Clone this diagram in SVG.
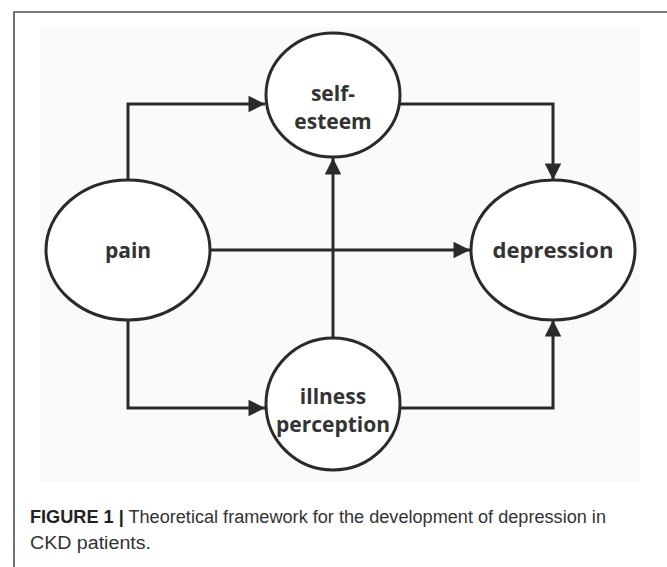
<svg xmlns="http://www.w3.org/2000/svg" width="667" height="567" viewBox="0 0 667 567">
<style>
.frame{stroke:#505050;stroke-width:1.6;fill:none}
.node{fill:#fff;stroke:#2a2a2a;stroke-width:3}
.lbl{font-family:"Open Sans","Noto Sans",sans-serif;font-weight:bold;font-size:21px;fill:#333;text-anchor:middle}
.conn{stroke:#2a2a2a;stroke-width:3;fill:none}
.cap{font-family:"Liberation Sans",Arial,sans-serif;font-size:18px;fill:#333}
</style>
<defs>
<marker id="ah" viewBox="0 0 10 10" refX="10" refY="5" markerWidth="6.5" markerHeight="5.5" markerUnits="strokeWidth" orient="auto">
<path d="M0,0 L10,5 L0,10 z" fill="#2a2a2a"/>
</marker>
</defs>
<rect width="667" height="567" fill="#fff"/>
<path class="frame" d="M14,567 L14,12 L667,12"/>
<rect x="40" y="27" width="600" height="455" fill="#fafafa"/>
<g id="connectors">
<path class="conn" d="M128,180 L128,104 L265,104" marker-end="url(#ah)"/>
<path class="conn" d="M210,250 L470,250" marker-end="url(#ah)"/>
<path class="conn" d="M128,320 L128,408 L265,408" marker-end="url(#ah)"/>
<path class="conn" d="M333,338 L333,158" marker-end="url(#ah)"/>
<path class="conn" d="M399,104 L553,104 L553,180" marker-end="url(#ah)"/>
<path class="conn" d="M399,408 L553,408 L553,320" marker-end="url(#ah)"/>
</g>
<g id="self-esteem">
<ellipse class="node" cx="333" cy="95" rx="67" ry="62"/>
<text class="lbl" x="333" y="101">self-</text>
<text class="lbl" x="333" y="129">esteem</text>
</g>
<g id="pain">
<ellipse class="node" cx="128" cy="250" rx="82" ry="70"/>
<text class="lbl" x="128" y="258">pain</text>
</g>
<g id="depression">
<ellipse class="node" cx="553" cy="250" rx="82" ry="70"/>
<text class="lbl" x="553" y="258" textLength="121" lengthAdjust="spacingAndGlyphs">depression</text>
</g>
<g id="illness-perception">
<ellipse class="node" cx="333" cy="404" rx="67" ry="66"/>
<text class="lbl" x="333" y="404">illness</text>
<text class="lbl" x="333" y="432">perception</text>
</g>
<text class="cap" x="30" y="523" textLength="576" lengthAdjust="spacingAndGlyphs"><tspan font-weight="bold" fill="#222">FIGURE 1 |</tspan> Theoretical framework for the development of depression in</text>
<text class="cap" x="30" y="549" textLength="121" lengthAdjust="spacingAndGlyphs">CKD patients.</text>
</svg>
